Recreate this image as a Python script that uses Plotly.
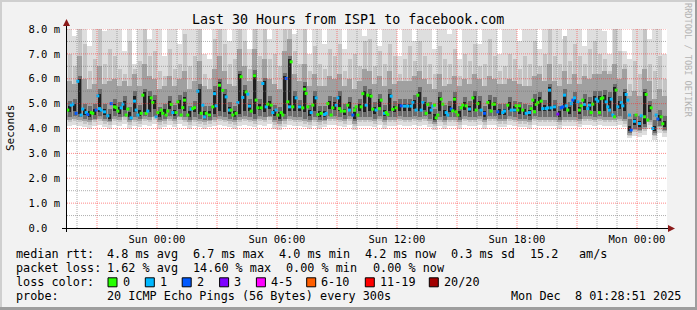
import plotly.graph_objects as go
import pandas as pd

_ = None  # no median mark read for that 5-minute step

# ---------------- data (values in ms) ----------------
start_time = "2025-12-06 19:30:00"
end_time = "2025-12-08 01:30:00"
median_step_minutes = 5     # ping rounds (one median each)
smoke_step_minutes = 15     # smoke bands, read at 15-minute resolution

median_rtt = [
    4.74, _, 4.94, 4.98, _, 4.61, 5.9, _, 4.54, 4.78,
    _, 4.64, 4.56, _, 4.64, 4.61, _, 4.74, 5.31, 4.8,
    4.74, _, 4.67, _, 4.51, _, 5.0, _, 4.87, 4.84,
    4.7, _, 4.83, 4.98, _, 4.54, 4.78, _, 4.43, _,
    5.1, 4.74, 4.54, _, 4.61, 5.34, _, 4.61, 4.7, _,
    5.23, 5.04, _, 4.47, 4.64, _, 4.74, 4.61, _, 4.54,
    4.7, _, 4.97, 4.64, _, 4.64, 5.07, _, 4.54, 4.84,
    5.14, _, 4.54, _, 4.78, 4.8, 4.84, _, 5.5, _,
    4.61, 4.94, 4.47, 4.61, _, 4.54, _, 4.87, 5.4, 4.91,
    _, 5.74, _, 5.53, _, 5.27, _, 4.74, 4.74, 4.54,
    _, 4.61, 5.04, _, 6.08, 5.25, _, 5.47, 5.38, 4.9,
    4.7, _, 6.12, 5.14, 4.83, _, 4.83, 5.81, _, 4.87,
    4.98, _, 4.94, 4.64, _, 4.74, 4.54, _, 4.64, 4.54,
    _, 6.01, 5.07, 4.87, 6.68, 4.87, _, 5.23, _, 4.87,
    _, 4.83, 5.58, 5.41, 4.87, _, 4.64, 4.94, _, 5.23,
    4.56, _, 4.61, _, 4.56, 4.61, 5.0, _, 4.54, 4.83,
    _, 4.94, 5.23, 4.8, 4.7, _, 4.7, _, 4.94, 4.74,
    _, 4.54, 4.74, 4.87, 4.54, _, 4.87, 5.4, _, 4.94,
    5.34, _, 5.3, 4.78, _, 4.74, _, 4.8, 5.14, _,
    4.61, 4.64, 4.56, _, 5.3, 4.77, _, 4.83, _, _,
    4.91, _, 4.9, _, 4.9, _, 4.9, 5.04, _, 4.74,
    5.34, _, 4.74, 5.04, _, 4.61, 4.97, _, 4.74, 4.9,
    4.94, 4.43, 4.54, _, 5.18, 4.98, _, 4.64, 4.54, _,
    4.78, 4.71, 5.18, 4.67, 4.54, _, 4.83, 4.94, _, 4.91,
    _, 4.78, _, 5.23, _, 4.74, 5.0, _, 4.74, _,
    4.61, _, 5.04, _, 4.7, 4.98, 4.98, _, 4.67, _,
    _, 4.64, 4.7, _, 4.94, _, 4.74, _, 4.74, 4.91,
    4.74, 4.91, _, 4.74, _, 4.61, _, 4.64, 4.8, 5.14,
    4.67, 4.97, 5.04, _, 5.1, 4.8, _, 4.8, 4.83, 5.54,
    4.83, _, 4.87, _, 4.58, _, 4.83, 4.87, 5.34, 4.91,
    4.74, _, 5.0, 5.14, 5.23, _, 5.07, 4.74, 4.91, 5.14,
    4.97, _, 4.8, 4.94, 4.64, 4.98, _, 5.18, 5.1, 4.64,
    5.2, 5.23, _, 5.07, 4.87, 4.74, 5.18, 4.54, 4.47, 5.54,
    4.87, _, 5.04, 4.91, _, 5.37, 5.14, 4.54, 3.94, _,
    4.29, 4.54, _, 4.2, 4.51, _, 4.47, 5.37, 4.34, _,
    4.83, 4.0, _, 4.54, 4.38, _, 4.47, 4.19, _,
]
# lost pings (out of 20) per round -> index into loss_colors
loss_class = [
    0, _, 1, 1, _, 2, 1, _, 1, 1,
    _, 1, 2, _, 0, 0, _, 2, 1, 1,
    1, _, 1, _, 1, _, 2, _, 0, 0,
    0, _, 1, 1, _, 0, 0, _, 1, _,
    1, 1, 1, _, 0, 0, _, 0, 1, _,
    0, 0, _, 1, 0, _, 0, 0, _, 0,
    0, _, 0, 1, _, 0, 0, _, 0, 0,
    0, _, 0, _, 1, 0, 0, _, 1, _,
    0, 1, 1, 0, _, 0, _, 0, 1, 1,
    _, 0, _, 0, _, 1, _, 1, 0, 0,
    _, 0, 1, _, 0, 1, _, 0, 1, 1,
    0, _, 0, 0, 0, _, 0, 1, _, 1,
    0, _, 0, 1, _, 1, 0, _, 0, 0,
    _, 2, 0, 1, 0, 0, _, 1, _, 1,
    _, 0, 0, 0, 0, _, 1, 0, _, 1,
    0, _, 0, _, 1, 1, 0, _, 0, 0,
    _, 1, 1, 0, 0, _, 0, _, 0, 1,
    _, 2, 0, 0, 0, _, 0, 0, _, 1,
    0, _, 0, 0, _, 1, _, 0, 0, _,
    1, 0, 0, _, 1, 0, _, 0, _, _,
    2, _, 1, _, 1, _, 1, 1, _, 1,
    0, _, 1, 1, _, 0, 0, _, 1, 1,
    0, 0, 0, _, 0, 0, _, 1, 1, _,
    2, 0, 0, 0, 0, _, 0, 0, _, 0,
    _, 1, _, 0, _, 0, 0, _, 1, _,
    2, _, 0, _, 0, 0, 0, _, 2, _,
    _, 1, 1, _, 0, _, 1, _, 1, 0,
    0, 0, _, 0, _, 1, _, 1, 0, 0,
    0, 0, 0, _, 0, 1, _, 1, 1, 1,
    1, _, 1, _, 3, _, 2, 2, 1, 1,
    0, _, 1, 2, 1, _, 1, 0, 0, 0,
    1, _, 1, 1, 0, 0, _, 1, 1, 0,
    0, 0, _, 1, 1, 1, 1, 1, 0, 0,
    1, _, 1, 1, _, 1, 1, 1, 2, _,
    1, 0, _, 1, 1, _, 0, 0, 0, _,
    0, 1, _, 1, 2, _, 0, 0, _,
]

# smoke bands (15-minute resolution), outermost (lightest) to innermost (darkest)
outer_lo = [
    4.1, 4.15, 4.1, 4.05, 4.0, 4.1, 4.15, 4.05, 4.0, 4.15,
    4.1, 4.2, 4.0, 4.1, 4.05, 4.15, 4.1, 4.2, 4.0, 4.05,
    4.15, 4.05, 4.2, 4.1, 4.0, 4.1, 4.05, 4.0, 4.05, 4.1,
    4.15, 4.1, 4.05, 4.0, 4.1, 4.15, 4.1, 4.05, 4.15, 4.1,
    4.2, 4.0, 3.95, 4.05, 4.15, 4.1, 4.1, 4.05, 4.0, 4.1,
    4.0, 4.05, 4.15, 4.15, 4.1, 4.05, 4.15, 3.95, 4.1, 4.1,
    4.1, 4.05, 4.15, 4.0, 4.1, 4.1, 4.15, 4.1, 4.1, 4.15,
    4.1, 4.15, 4.05, 3.95, 4.1, 4.0, 4.1, 4.1, 4.0, 4.15,
    4.1, 4.1, 4.15, 4.0, 4.15, 4.15, 4.05, 4.05, 4.15, 4.1,
    4.05, 4.05, 4.0, 4.15, 4.1, 4.1, 4.1, 4.1, 4.0, 4.1,
    4.1, 4.1, 4.05, 4.15, 4.15, 4.1, 4.15, 4.1, 4.1, 4.1,
    4.15, 4.05, 3.6, 3.7, 3.65, 3.75, 4.0, 3.55, 3.8, 3.65,
]
outer_hi = [
    8.5, 7.7, 8.5, 8.5, 7.3, 8.5, 8.5, 7.9, 8.5, 8.5,
    8.5, 7.1, 8.5, 6.6, 8.5, 8.5, 7.6, 8.5, 8.5, 6.9,
    8.5, 8.5, 7.4, 8.5, 8.5, 8.5, 8.5, 7.0, 6.8, 8.5,
    8.5, 8.5, 7.5, 8.5, 8.5, 8.5, 7.2, 8.5, 8.5, 8.5,
    7.6, 8.5, 8.5, 8.5, 8.5, 7.8, 8.5, 8.5, 7.0, 8.5,
    8.5, 7.4, 8.5, 8.5, 8.5, 7.2, 8.5, 8.5, 8.5, 7.7,
    8.5, 8.5, 7.3, 8.5, 8.5, 8.5, 6.9, 8.5, 8.5, 7.5,
    8.5, 8.5, 8.5, 7.2, 8.5, 8.5, 7.8, 8.5, 6.8, 8.5,
    8.5, 8.5, 7.4, 8.5, 8.5, 8.5, 7.0, 8.5, 8.5, 8.5,
    7.5, 8.5, 8.5, 8.5, 7.2, 8.5, 8.5, 8.5, 8.5, 7.6,
    8.5, 8.5, 8.5, 7.3, 8.5, 8.5, 8.5, 7.9, 7.0, 8.5,
    8.5, 7.1, 6.8, 8.5, 8.5, 8.5, 7.6, 8.5, 8.5, 7.0,
]
light_lo = [
    4.25, 4.3, 4.25, 4.2, 4.15, 4.25, 4.3, 4.2, 4.15, 4.3,
    4.25, 4.35, 4.15, 4.25, 4.2, 4.3, 4.25, 4.35, 4.15, 4.2,
    4.3, 4.2, 4.35, 4.25, 4.15, 4.25, 4.2, 4.15, 4.2, 4.25,
    4.3, 4.25, 4.2, 4.15, 4.25, 4.3, 4.25, 4.2, 4.3, 4.25,
    4.35, 4.15, 4.1, 4.2, 4.3, 4.25, 4.25, 4.2, 4.15, 4.25,
    4.15, 4.2, 4.3, 4.3, 4.25, 4.2, 4.3, 4.1, 4.25, 4.25,
    4.25, 4.2, 4.3, 4.15, 4.25, 4.25, 4.3, 4.25, 4.25, 4.3,
    4.25, 4.3, 4.2, 4.1, 4.25, 4.15, 4.25, 4.25, 4.15, 4.3,
    4.25, 4.25, 4.3, 4.15, 4.3, 4.3, 4.2, 4.2, 4.3, 4.25,
    4.2, 4.2, 4.15, 4.3, 4.25, 4.25, 4.25, 4.25, 4.15, 4.25,
    4.25, 4.25, 4.2, 4.3, 4.3, 4.25, 4.3, 4.25, 4.25, 4.25,
    4.3, 4.2, 3.7, 3.85, 3.8, 3.9, 4.15, 3.7, 3.95, 3.8,
]
light_hi = [
    7.0, 6.5, 8.5, 7.4, 6.3, 6.8, 8.0, 6.6, 7.2, 6.9,
    6.4, 6.2, 7.5, 6.4, 6.7, 8.3, 6.9, 7.1, 6.3, 6.1,
    7.2, 6.4, 6.6, 7.8, 6.5, 6.9, 8.5, 6.2, 6.0, 7.6,
    8.5, 7.4, 6.6, 6.8, 8.5, 7.5, 6.4, 8.5, 6.9, 8.2,
    6.8, 7.0, 6.5, 8.5, 8.5, 7.1, 6.6, 8.0, 6.3, 7.3,
    6.6, 6.4, 7.2, 6.9, 7.4, 6.3, 6.8, 7.0, 6.5, 7.5,
    7.6, 6.5, 7.1, 6.6, 7.4, 6.9, 6.2, 6.8, 7.3, 6.7,
    7.5, 6.9, 6.6, 6.2, 7.3, 6.8, 6.6, 7.2, 6.1, 7.0,
    6.7, 7.4, 6.5, 6.6, 7.6, 6.9, 6.3, 6.5, 7.0, 6.8,
    6.4, 6.9, 6.6, 7.5, 6.5, 7.0, 8.3, 6.9, 6.6, 7.7,
    6.7, 7.4, 6.9, 6.6, 7.2, 7.5, 7.0, 6.8, 6.3, 8.0,
    7.1, 6.6, 5.8, 6.7, 6.2, 8.0, 6.6, 6.3, 6.9, 6.0,
]
mid_lo = [
    4.35, 4.4, 4.35, 4.3, 4.25, 4.35, 4.4, 4.3, 4.25, 4.4,
    4.35, 4.45, 4.25, 4.35, 4.3, 4.4, 4.35, 4.45, 4.25, 4.3,
    4.4, 4.3, 4.45, 4.35, 4.25, 4.35, 4.3, 4.25, 4.3, 4.35,
    4.4, 4.35, 4.3, 4.25, 4.35, 4.4, 4.35, 4.3, 4.4, 4.35,
    4.45, 4.25, 4.2, 4.3, 4.4, 4.35, 4.35, 4.3, 4.25, 4.35,
    4.25, 4.3, 4.4, 4.4, 4.35, 4.3, 4.4, 4.2, 4.35, 4.35,
    4.35, 4.3, 4.4, 4.25, 4.35, 4.35, 4.4, 4.35, 4.35, 4.4,
    4.35, 4.4, 4.3, 4.2, 4.35, 4.25, 4.35, 4.35, 4.25, 4.4,
    4.35, 4.35, 4.4, 4.25, 4.4, 4.4, 4.3, 4.3, 4.4, 4.35,
    4.3, 4.3, 4.25, 4.4, 4.35, 4.35, 4.35, 4.35, 4.25, 4.35,
    4.35, 4.35, 4.3, 4.4, 4.4, 4.35, 4.4, 4.35, 4.35, 4.35,
    4.4, 4.3, 3.75, 3.95, 3.9, 4.0, 4.25, 3.75, 4.05, 3.9,
]
mid_hi = [
    5.9, 5.8, 6.9, 6.0, 5.6, 5.8, 6.5, 5.8, 5.9, 6.0,
    5.7, 5.9, 5.7, 6.2, 5.7, 6.6, 6.1, 6.0, 5.6, 5.7,
    6.1, 5.7, 6.0, 6.3, 5.6, 5.9, 6.7, 5.7, 5.6, 6.4,
    6.9, 6.3, 5.8, 5.7, 7.2, 6.5, 5.9, 7.2, 5.9, 6.8,
    6.0, 5.8, 5.6, 7.1, 7.6, 6.2, 5.9, 6.6, 5.7, 6.2,
    5.7, 5.7, 6.1, 6.0, 6.2, 5.7, 6.0, 5.6, 5.9, 6.4,
    6.3, 5.8, 6.1, 5.7, 6.3, 5.8, 5.9, 5.9, 5.9, 6.1,
    6.3, 6.0, 5.8, 5.6, 6.2, 5.7, 5.8, 6.1, 5.7, 6.0,
    5.8, 6.2, 6.0, 5.7, 6.1, 6.0, 5.8, 5.8, 6.0, 5.9,
    5.8, 5.7, 5.7, 6.1, 6.2, 5.9, 6.6, 5.9, 5.7, 6.3,
    5.8, 6.2, 5.8, 6.1, 6.0, 6.2, 6.2, 6.3, 6.2, 6.6,
    6.0, 6.4, 5.3, 5.5, 5.3, 6.4, 5.9, 5.2, 5.6, 5.3,
]
dark_lo = [
    4.45, 4.5, 4.45, 4.4, 4.35, 4.4, 4.5, 4.4, 4.3, 4.5,
    4.45, 4.5, 4.35, 4.45, 4.4, 4.5, 4.45, 4.5, 4.35, 4.4,
    4.5, 4.4, 4.5, 4.45, 4.35, 4.45, 4.4, 4.35, 4.35, 4.45,
    4.5, 4.45, 4.4, 4.35, 4.45, 4.5, 4.45, 4.4, 4.5, 4.45,
    4.5, 4.35, 4.3, 4.4, 4.5, 4.45, 4.45, 4.4, 4.35, 4.45,
    4.35, 4.35, 4.5, 4.5, 4.45, 4.4, 4.5, 4.3, 4.45, 4.45,
    4.45, 4.4, 4.5, 4.35, 4.45, 4.45, 4.5, 4.45, 4.45, 4.5,
    4.45, 4.5, 4.4, 4.25, 4.45, 4.35, 4.45, 4.45, 4.35, 4.5,
    4.45, 4.45, 4.5, 4.35, 4.5, 4.5, 4.4, 4.4, 4.5, 4.45,
    4.4, 4.4, 4.35, 4.5, 4.45, 4.45, 4.45, 4.45, 4.35, 4.45,
    4.45, 4.45, 4.4, 4.5, 4.5, 4.45, 4.5, 4.45, 4.45, 4.45,
    4.5, 4.4, 3.8, 4.0, 3.95, 4.05, 4.35, 3.8, 4.1, 3.95,
]
dark_hi = [
    5.1, 5.2, 6.1, 5.0, 4.9, 5.0, 5.6, 5.0, 4.8, 5.2,
    5.05, 5.3, 4.85, 5.5, 4.95, 5.6, 5.5, 5.35, 4.85, 5.0,
    5.3, 4.95, 5.35, 5.45, 4.9, 5.1, 5.8, 4.9, 4.9, 5.7,
    6.0, 5.6, 5.05, 4.9, 6.3, 5.75, 5.2, 6.35, 5.2, 6.05,
    5.3, 4.95, 4.85, 6.25, 6.9, 5.5, 5.15, 5.85, 4.95, 5.5,
    4.9, 4.9, 5.3, 5.25, 5.5, 5.0, 5.25, 4.85, 5.2, 5.7,
    5.6, 5.05, 5.4, 4.95, 5.6, 5.1, 5.2, 5.2, 5.2, 5.35,
    5.65, 5.25, 5.05, 4.8, 5.48, 4.95, 5.1, 5.45, 4.9, 5.25,
    5.1, 5.5, 5.3, 4.9, 5.35, 5.25, 5.0, 5.0, 5.25, 5.1,
    5.05, 5.0, 4.95, 5.4, 5.45, 5.15, 5.8, 5.15, 4.9, 5.6,
    5.05, 5.45, 5.05, 5.4, 5.25, 5.5, 5.5, 5.55, 5.45, 5.8,
    5.3, 5.6, 4.4, 4.6, 4.5, 5.6, 5.1, 4.35, 4.75, 4.5,
]
core_lo = [
    4.65, 4.7, 4.6, 4.55, 4.45, 4.55, 4.65, 4.55, 4.4, 4.7,
    4.6, 4.75, 4.45, 4.65, 4.5, 4.65, 4.65, 4.8, 4.45, 4.55,
    4.8, 4.5, 4.8, 4.7, 4.45, 4.65, 4.6, 4.45, 4.45, 4.6,
    4.7, 4.65, 4.6, 4.45, 4.6, 4.7, 4.7, 4.6, 4.75, 4.65,
    4.8, 4.5, 4.4, 4.6, 4.7, 4.7, 4.7, 4.65, 4.5, 4.7,
    4.45, 4.45, 4.8, 4.75, 4.7, 4.55, 4.75, 4.4, 4.7, 4.65,
    4.7, 4.6, 4.8, 4.5, 4.7, 4.65, 4.7, 4.7, 4.7, 4.8,
    4.7, 4.75, 4.6, 4.35, 4.7, 4.5, 4.65, 4.7, 4.45, 4.75,
    4.65, 4.7, 4.8, 4.45, 4.8, 4.75, 4.55, 4.55, 4.75, 4.65,
    4.6, 4.55, 4.5, 4.75, 4.7, 4.7, 4.7, 4.7, 4.45, 4.7,
    4.6, 4.7, 4.6, 4.75, 4.75, 4.7, 4.7, 4.7, 4.7, 4.7,
    4.8, 4.7, 3.9, 4.15, 4.05, 4.2, 4.65, 3.9, 4.3, 4.05,
]
core_hi = [
    4.9, 5.0, 6.0, 4.8, 4.7, 4.8, 5.4, 4.8, 4.6, 5.0,
    4.85, 5.1, 4.65, 5.3, 4.75, 5.45, 5.3, 5.15, 4.65, 4.8,
    5.1, 4.75, 5.15, 5.25, 4.7, 4.9, 5.6, 4.7, 4.7, 5.5,
    5.85, 5.4, 4.85, 4.7, 6.2, 5.55, 5.0, 6.2, 5.0, 5.9,
    5.1, 4.75, 4.65, 6.1, 6.8, 5.3, 4.95, 5.7, 4.75, 5.3,
    4.7, 4.7, 5.1, 5.05, 5.3, 4.8, 5.05, 4.65, 5.0, 5.5,
    5.4, 4.85, 5.2, 4.75, 5.4, 4.9, 5.0, 5.0, 5.0, 5.15,
    5.45, 5.05, 4.85, 4.6, 5.28, 4.75, 4.9, 5.25, 4.7, 5.05,
    4.9, 5.3, 5.1, 4.7, 5.15, 5.05, 4.8, 4.8, 5.05, 4.9,
    4.85, 4.8, 4.75, 5.2, 5.25, 4.95, 5.65, 4.95, 4.7, 5.4,
    4.85, 5.25, 4.85, 5.2, 5.05, 5.3, 5.3, 5.35, 5.25, 5.65,
    5.1, 5.45, 4.1, 4.4, 4.3, 5.45, 4.95, 4.1, 4.55, 4.3,
]

x_tick_vals = ["2025-12-07 00:00", "2025-12-07 06:00", "2025-12-07 12:00",
               "2025-12-07 18:00", "2025-12-08 00:00"]
x_tick_text = ["Sun 00:00", "Sun 06:00", "Sun 12:00", "Sun 18:00", "Mon 00:00"]
y_tick_vals = [0, 1, 2, 3, 4, 5, 6, 7, 8]
y_tick_text = ["0.0\u00a0\u00a0", "1.0 m", "2.0 m", "3.0 m", "4.0 m",
               "5.0 m", "6.0 m", "7.0 m", "8.0 m"]

loss_labels = ["0", "1", "2", "3", "4-5", "6-10", "11-19", "20/20"]
loss_colors = ["#26ff00", "#00b8ff", "#0059ff", "#7e00ff", "#ff00fe",
               "#ff5e00", "#ff0000", "#a10000"]

# ---------------- geometry ----------------
W_FIG, H_FIG = 697, 310
L, R, T, B = 67, 667, 29, 228
PW, PH = R - L, B - T
FONT = "DejaVu Sans Mono"


def px(x):
    return (x - L) / PW


def py(y):
    return (B - y) / PH


t0 = pd.Timestamp(start_time)
smoke_times = [t0 + pd.Timedelta(minutes=smoke_step_minutes * (i + 0.5))
               for i in range(len(outer_lo))]
smoke_ms = smoke_step_minutes * 60 * 1000
rounds = [(t0 + pd.Timedelta(minutes=median_step_minutes * (i + 0.5)), v, c)
          for i, (v, c) in enumerate(zip(median_rtt, loss_class)) if v is not None]

fig = go.Figure()

bands = [
    (outer_lo, outer_hi, "#dedede", 1.0),
    (light_lo, light_hi, "#c4c4c4", 0.8),
    (mid_lo, mid_hi, "#a0a0a0", 0.9),
    (dark_lo, dark_hi, "#6c6c6c", 0.8),
    (core_lo, core_hi, "#202020", 0.45),
]
for lo, hi, col, frac in bands:
    fig.add_trace(go.Bar(
        x=smoke_times, base=lo, y=[h - l for h, l in zip(hi, lo)],
        width=smoke_ms * frac, marker=dict(color=col, line=dict(width=0)),
        hoverinfo="skip", showlegend=False,
    ))

fig.add_trace(go.Scatter(
    x=[r[0] for r in rounds], y=[r[1] for r in rounds], mode="markers",
    marker=dict(symbol="square", size=3,
                color=[loss_colors[r[2]] for r in rounds], line=dict(width=0)),
    hoverinfo="skip", showlegend=False,
))

shapes = []
# rrdtool draws its grid on top of the smoke
GRAY = "rgba(110,110,110,0.55)"
RED = "rgba(255,40,40,0.55)"
hour = pd.Timestamp("2025-12-06 20:00")
while hour < pd.Timestamp(end_time):
    shapes.append(dict(type="line", xref="x", yref="paper", x0=hour, x1=hour,
                       y0=0, y1=1, layer="above",
                       line=dict(color=RED if hour.hour % 3 == 0 else GRAY,
                                 width=1, dash="1px,1px")))
    hour += pd.Timedelta(hours=1)
for k in range(1, 17):
    v = k * 0.5
    shapes.append(dict(type="line", xref="paper", yref="y", x0=0, x1=1,
                       y0=v, y1=v, layer="above",
                       line=dict(color=RED if k % 2 == 0 else GRAY,
                                 width=1, dash="1px,1px")))
# axis lines and arrow heads
shapes.append(dict(type="line", xref="paper", yref="paper", x0=px(62), x1=px(670),
                   y0=py(228.5), y1=py(228.5), line=dict(color="black", width=1),
                   layer="above"))
shapes.append(dict(type="line", xref="paper", yref="paper", x0=px(66.5), x1=px(66.5),
                   y0=py(232), y1=py(24), line=dict(color="black", width=1),
                   layer="above"))
shapes.append(dict(type="path", xref="paper", yref="paper", layer="above",
                   path=f"M {px(66.5)},{py(19)} L {px(63)},{py(26)} L {px(70)},{py(26)} Z",
                   fillcolor="#8b1a1a", line=dict(width=0)))
shapes.append(dict(type="path", xref="paper", yref="paper", layer="above",
                   path=f"M {px(675)},{py(228.5)} L {px(668)},{py(225)} L {px(668)},{py(232)} Z",
                   fillcolor="#8b1a1a", line=dict(width=0)))
# image frame
shapes += [
    dict(type="rect", xref="paper", yref="paper", x0=px(0), x1=px(697), y0=py(0), y1=py(2),
         fillcolor="#cfcfcf", line=dict(width=0), layer="above"),
    dict(type="rect", xref="paper", yref="paper", x0=px(0), x1=px(2), y0=py(0), y1=py(310),
         fillcolor="#cfcfcf", line=dict(width=0), layer="above"),
    dict(type="rect", xref="paper", yref="paper", x0=px(695), x1=px(697), y0=py(0), y1=py(310),
         fillcolor="#9e9e9e", line=dict(width=0), layer="above"),
    dict(type="rect", xref="paper", yref="paper", x0=px(0), x1=px(697), y0=py(307), y1=py(310),
         fillcolor="#9e9e9e", line=dict(width=0), layer="above"),
]

ann = []


def text(x, y, s, size=11.8, anchor="left", color="black", angle=0):
    ann.append(dict(x=px(x), y=py(y), xref="paper", yref="paper", text=s.replace(" ", "\u00a0"),
                    showarrow=False, xanchor=anchor, yanchor="middle", textangle=angle,
                    borderpad=0, borderwidth=0,
                    font=dict(family=FONT, size=size, color=color)))


text(348, 19, "Last 30 Hours from ISP1 to facebook.com", size=13.3, anchor="center")
text(10, 128, "Seconds", size=11, anchor="center", angle=-90)
text(688, 60, "RRDTOOL / TOBI OETIKER", size=8.6, anchor="center", color="#b4b4b4", angle=90)

rows = [254.3, 268.3, 282.3, 296.0]
text(16, rows[0], "median rtt:")
for xx, s in [(107, "4.8 ms avg"), (192.5, "6.7 ms max"), (279, "4.0 ms min"),
              (365, "4.2 ms now"), (451, "0.3 ms sd"), (530, "15.2"), (579, "am/s")]:
    text(xx, rows[0], s)
text(16, rows[1], "packet loss:")
for xx, s in [(107, "1.62 % avg"), (192.5, "14.60 % max"), (286, "0.00 % min"),
              (372.5, "0.00 % now")]:
    text(xx, rows[1], s)
text(16, rows[2], "loss color:")
box_x = [108, 145.3, 182.2, 219.6, 256.4, 306.7, 365.3, 429.3]
for bx, lab, col in zip(box_x, loss_labels, loss_colors):
    shapes.append(dict(type="rect", xref="paper", yref="paper", layer="above",
                       x0=px(bx), x1=px(bx + 9), y0=py(rows[2] - 4.5), y1=py(rows[2] + 4.5),
                       fillcolor=col, line=dict(color="black", width=1)))
    text(bx + 14.5, rows[2], lab)
text(16, rows[3], "probe:")
text(107, rows[3], "20 ICMP Echo Pings (56 Bytes) every 300s")
text(681, rows[3], "Mon Dec  8 01:28:51 2025", anchor="right")

fig.update_layout(
    width=W_FIG, height=H_FIG,
    margin=dict(l=L, r=W_FIG - R, t=T, b=H_FIG - B, pad=0),
    paper_bgcolor="#f2f2f2", plot_bgcolor="white",
    barmode="overlay", bargap=0,
    showlegend=False,
    shapes=shapes, annotations=ann,
    font=dict(family=FONT, color="black"),
    xaxis=dict(type="date", range=[start_time, end_time], showgrid=False,
               zeroline=False, showline=False, tickvals=x_tick_vals,
               ticktext=x_tick_text, ticks="", ticklabelstandoff=3,
               tickfont=dict(family=FONT, size=10.5, color="black"), fixedrange=True),
    yaxis=dict(range=[0, 8], showgrid=False, zeroline=False, showline=False,
               tickvals=y_tick_vals, ticktext=y_tick_text, ticks="",
               ticklabelstandoff=6,
               tickfont=dict(family=FONT, size=10.5, color="black"), fixedrange=True),
)

fig.write_html("out.html", config={"displayModeBar": False})
